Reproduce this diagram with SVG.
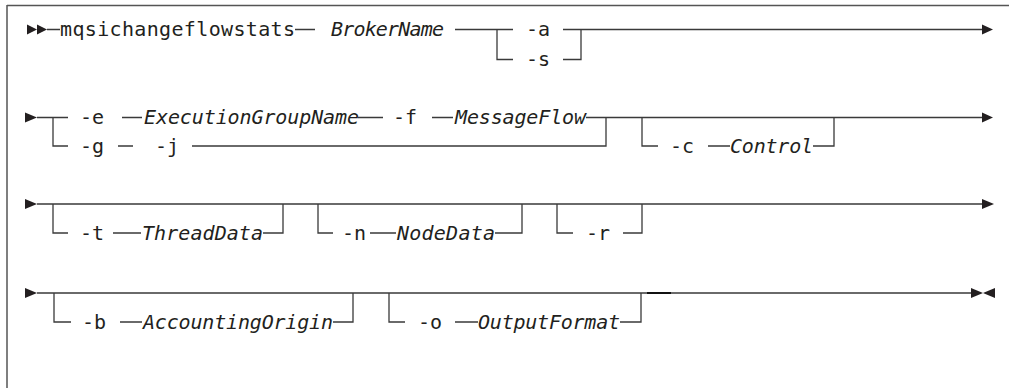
<svg xmlns="http://www.w3.org/2000/svg" width="1009" height="388" viewBox="0 0 1009 388">
<style>
.ln{stroke:#3a3a3a;stroke-width:1.3;fill:none}
.bd{stroke:#555;stroke-width:1.5;fill:none}
.ah{fill:#231f20}
.t{font-family:"DejaVu Sans Mono","Liberation Mono",monospace;font-size:20px;fill:#231f20}
.i{font-style:italic}
</style>
<rect width="1009" height="388" fill="#fff"/>
<g id="frame">
<path class="bd" d="M7,5.5H1009M7,5V388"/>
</g>
<g id="connectors">
<!-- row 1 -->
<polygon class="ah" points="27,24.5 37,29.5 27,34.5"/>
<polygon class="ah" points="37,24.5 47,29.5 37,34.5"/>
<path class="ln" d="M47,29.5H60M295,29.5H315M455,29.5H513M497,29.5V59.5H513M563,29.5H982M563,59.5H581V29.5"/>
<polygon class="ah" points="982,24.5 993,29.5 982,34.5"/>
<!-- row 2 -->
<polygon class="ah" points="25,112.5 37,117.5 25,122.5"/>
<path class="ln" d="M37,117.5H68M53,117.5V146H68M122,117.5H142M358,117.5H383M432,117.5H453M586,117.5H982M118,146H133M192,146H606V117.5M642,117.5V146H658M708,146H730M813,146H834V117.5"/>
<polygon class="ah" points="982,112.5 993,117.5 982,122.5"/>
<!-- row 3 -->
<polygon class="ah" points="25,199 37,204 25,209"/>
<path class="ln" d="M37,204H982M53,204V233H68M113,233H141M263,233H283V204M318,204V233H333M370,233H396M495,233H522V204M557,204V233H573M623,233H642V204"/>
<polygon class="ah" points="982,199 994,204 982,209"/>
<!-- row 4 -->
<polygon class="ah" points="25,288 37,293 25,298"/>
<path class="ln" d="M37,293H971M54,293V322H71M120,322H142M333,322H353V293M389,293V322H405M455,322H478M620,322H641V293"/>
<path d="M647,293H671" stroke="#111" stroke-width="2"/>
<polygon class="ah" points="971,288 983,293 971,298"/>
<polygon class="ah" points="995,288 983,293 995,298"/>
</g>
<g id="n-cmd"><text class="t" x="60" y="36" textLength="235">mqsichangeflowstats</text></g>
<g id="n-broker"><text class="t i" x="331" y="36" textLength="113">BrokerName</text></g>
<g id="n-a"><text class="t" x="526" y="36">-a</text></g>
<g id="n-s"><text class="t" x="526" y="66">-s</text></g>
<g id="n-e"><text class="t" x="80" y="124">-e</text></g>
<g id="n-egname"><text class="t i" x="144" y="124" textLength="215">ExecutionGroupName</text></g>
<g id="n-f"><text class="t" x="393" y="124">-f</text></g>
<g id="n-msgflow"><text class="t i" x="455" y="124" textLength="131">MessageFlow</text></g>
<g id="n-g"><text class="t" x="80" y="152.5">-g</text></g>
<g id="n-j"><text class="t" x="155" y="152.5">-j</text></g>
<g id="n-c"><text class="t" x="670" y="152.5">-c</text></g>
<g id="n-control"><text class="t i" x="730" y="152.5" textLength="83">Control</text></g>
<g id="n-t"><text class="t" x="80" y="239.5">-t</text></g>
<g id="n-thread"><text class="t i" x="142" y="239.5" textLength="121">ThreadData</text></g>
<g id="n-n"><text class="t" x="342" y="239.5">-n</text></g>
<g id="n-node"><text class="t i" x="397" y="239.5" textLength="98">NodeData</text></g>
<g id="n-r"><text class="t" x="586" y="239.5">-r</text></g>
<g id="n-b"><text class="t" x="82" y="328.5">-b</text></g>
<g id="n-acct"><text class="t i" x="143" y="328.5" textLength="190">AccountingOrigin</text></g>
<g id="n-o"><text class="t" x="418" y="328.5">-o</text></g>
<g id="n-outfmt"><text class="t i" x="478" y="328.5" textLength="142">OutputFormat</text></g>
</svg>
